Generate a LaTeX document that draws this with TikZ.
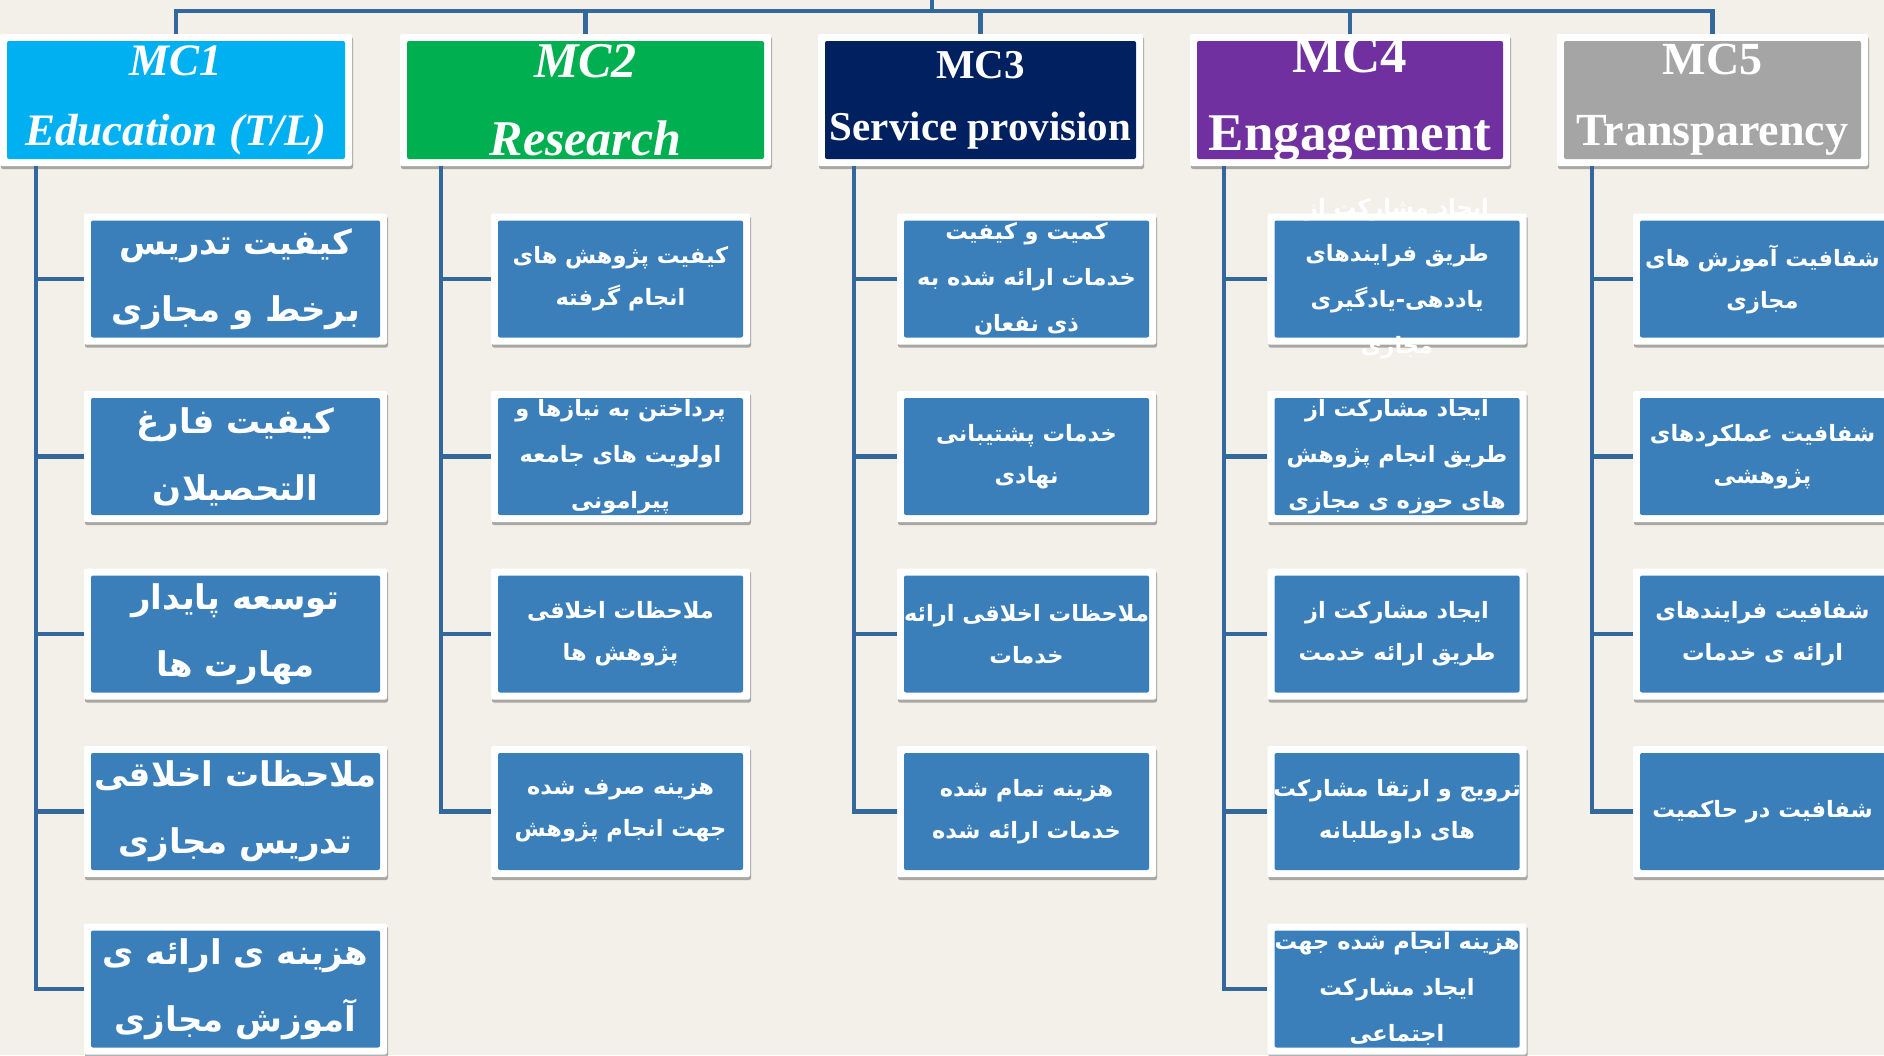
\documentclass[tikz,border=0pt]{standalone}
\usepackage{fontspec}
\setmainfont{Liberation Serif}
\newfontfamily\arabicfont[Script=Arabic]{DejaVu Sans}
\TeXXeTstate=1
\usetikzlibrary{shadows}
\definecolor{paper}{HTML}{F3F0E9}
\definecolor{boxblue}{HTML}{3B7FBA}
\definecolor{linkblue}{HTML}{32689B}
\definecolor{mcone}{HTML}{00B0F0}
\definecolor{mctwo}{HTML}{00B050}
\definecolor{mcthree}{HTML}{002060}
\definecolor{mcfour}{HTML}{7030A0}
\definecolor{mcfive}{HTML}{A5A5A5}
\begin{document}
\begin{tikzpicture}[x=1pt,y=-1pt,
  framed/.style={rectangle, fill=white, rounded corners=2pt, inner sep=0pt,
    text=white, align=center,
    drop shadow={shadow xshift=1pt, shadow yshift=-3pt, opacity=.3, fill=black},
    path picture={\fill[#1] ([shift={(7pt,-7pt)}]path picture bounding box.north west)
      rectangle ([shift={(-7pt,7pt)}]path picture bounding box.south east);}},
  head/.style={framed=#1, minimum height=132pt},
  leaf/.style={framed=boxblue, minimum height=131pt, minimum width=259pt},
  bigleaf/.style={leaf, minimum width=303pt},
  say/.style={text=white, align=center, inner sep=0pt,
    font=\arabicfont\bfseries\fontsize{22.5}{42}\selectfont},
  saytall/.style={say, font=\arabicfont\bfseries\fontsize{22.5}{46}\selectfont},
  saybig/.style={say, font=\arabicfont\bfseries\fontsize{34}{67}\selectfont},
  link/.style={linkblue, line width=4.5pt}]

\useasboundingbox (0,0) rectangle (1884,1055);
\fill[paper] (0,0) rectangle (1884,1055);

\coordinate (root) at (932,0);
\coordinate (bus) at (932,11);

% main criteria
\node[head=mcone, minimum width=352pt, font=\fontsize{45}{70}\selectfont\bfseries\itshape] (mc1) at (176,100) {MC1\\Education (T/L)};
\node[head=mctwo, minimum width=371pt, font=\fontsize{50}{78}\selectfont\bfseries\itshape] (mc2) at (585.5,100) {MC2\\Research};
\node[head=mcthree, minimum width=325pt, font=\fontsize{41}{62}\selectfont\bfseries] (mc3) at (980.5,100) {MC3\\Service provision};
\node[head=mcfour, minimum width=320pt, font=\fontsize{53}{78}\selectfont\bfseries] (mc4) at (1350,100) {MC4\\Engagement};
\node[head=mcfive, minimum width=311pt, font=\fontsize{46}{71}\selectfont\bfseries] (mc5) at (1712.5,100) {MC5\\Transparency};

% MC1
\node[bigleaf, label={[saybig]center:\beginR کیفیت تدریس\endR\\\beginR برخط و مجازی\endR}] (c11) at (235.5,279) {};
\node[bigleaf, label={[saybig]center:\beginR کیفیت فارغ\endR\\\beginR التحصیلان\endR}] (c12) at (235.5,456.5) {};
\node[bigleaf, label={[saybig]center:\beginR توسعه پایدار\endR\\\beginR مهارت ها\endR}] (c13) at (235.5,634) {};
\node[bigleaf, label={[saybig]center:\beginR ملاحظات اخلاقی\endR\\\beginR تدریس مجازی\endR}] (c14) at (235.5,811.5) {};
\node[bigleaf, label={[saybig]center:\beginR هزینه ی ارائه ی\endR\\\beginR آموزش مجازی\endR}] (c15) at (235.5,989) {};

% MC2
\node[leaf, label={[say]center:\beginR کیفیت پژوهش های\endR\\\beginR انجام گرفته\endR}] (c21) at (620.5,279) {};
\node[leaf, label={[saytall]center:\beginR پرداختن به نیازها و\endR\\\beginR اولویت های جامعه\endR\\\beginR پیرامونی\endR}] (c22) at (620.5,456.5) {};
\node[leaf, label={[say]center:\beginR ملاحظات اخلاقی\endR\\\beginR پژوهش ها\endR}] (c23) at (620.5,634) {};
\node[leaf, label={[say]center:\beginR هزینه صرف شده\endR\\\beginR جهت انجام پژوهش\endR}] (c24) at (620.5,811.5) {};

% MC3
\node[leaf, label={[saytall]center:\beginR کمیت و کیفیت\endR\\\beginR خدمات ارائه شده به\endR\\\beginR ذی نفعان\endR}] (c31) at (1026.5,279) {};
\node[leaf, label={[say]center:\beginR خدمات پشتیبانی\endR\\\beginR نهادی\endR}] (c32) at (1026.5,456.5) {};
\node[leaf, label={[say]center:\beginR ملاحظات اخلاقی ارائه\endR\\\beginR خدمات\endR}] (c33) at (1026.5,634) {};
\node[leaf, label={[say]center:\beginR هزینه تمام شده\endR\\\beginR خدمات ارائه شده\endR}] (c34) at (1026.5,811.5) {};

% MC4
\node[leaf, label={[saytall]center:\beginR ایجاد مشارکت از\endR\\\beginR طریق فرایندهای\endR\\\beginR یاددهی-یادگیری\endR\\\beginR مجازی\endR}] (c41) at (1397,279) {};
\node[leaf, label={[saytall]center:\beginR ایجاد مشارکت از\endR\\\beginR طریق انجام پژوهش\endR\\\beginR های حوزه ی مجازی\endR}] (c42) at (1397,456.5) {};
\node[leaf, label={[say]center:\beginR ایجاد مشارکت از\endR\\\beginR طریق ارائه خدمت\endR}] (c43) at (1397,634) {};
\node[leaf, label={[say]center:\beginR ترویج و ارتقا مشارکت\endR\\\beginR های داوطلبانه\endR}] (c44) at (1397,811.5) {};
\node[leaf, label={[saytall]center:\beginR هزینه انجام شده جهت\endR\\\beginR ایجاد مشارکت\endR\\\beginR اجتماعی\endR}] (c45) at (1397,989) {};

% MC5
\node[leaf, label={[say]center:\beginR شفافیت آموزش های\endR\\\beginR مجازی\endR}] (c51) at (1762.5,279) {};
\node[leaf, label={[say]center:\beginR شفافیت عملکردهای\endR\\\beginR پژوهشی\endR}] (c52) at (1762.5,456.5) {};
\node[leaf, label={[say]center:\beginR شفافیت فرایندهای\endR\\\beginR ارائه ی خدمات\endR}] (c53) at (1762.5,634) {};
\node[leaf, label={[say]center:\beginR شفافیت در حاکمیت\endR}] (c54) at (1762.5,811.5) {};

\draw[link] (root) -- (bus);
\foreach \i in {1,...,5}
    \draw[link] (bus) -| (mc\i.north);

\foreach \c/\n/\s in {1/5/36,2/4/41,3/4/36,4/5/34,5/4/35}
    \foreach \j in {1,...,\n}
        \draw[link] ([xshift=\s pt]mc\c.south west) |- (c\c\j.west);
\end{tikzpicture}
\end{document}
